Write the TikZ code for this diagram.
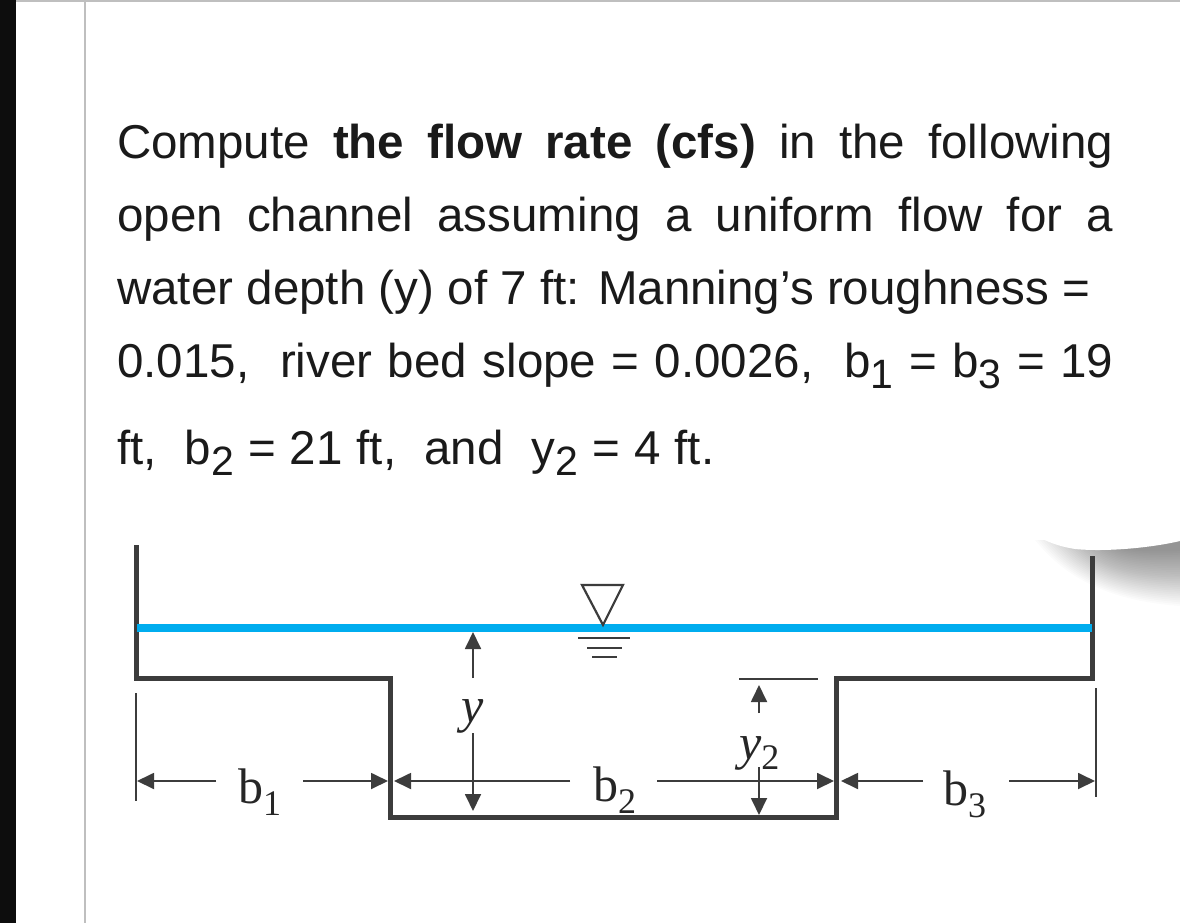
\documentclass[tikz,border=0pt]{standalone}
\usepackage{fontspec}
\setmainfont{Liberation Sans}
\newfontfamily\lblfont{Liberation Serif}
\usetikzlibrary{arrows.meta}
\definecolor{ink}{HTML}{3C3C3C}
\definecolor{water}{HTML}{00ADEF}
\definecolor{txt}{HTML}{1A1A1A}
\newcommand{\lowsub}[1]{\raisebox{-0.24em}{\fontsize{41}{41}\selectfont #1}}
\newcommand{\bsub}[2]{{\lblfont\fontsize{50}{50}\selectfont #1\raisebox{-0.24em}{\fontsize{36}{36}\selectfont #2}}}
\tikzset{
  x=1pt,y=-1pt,
  para/.style={anchor=base west,inner sep=0pt,text=txt,font=\fontsize{47.5}{48}\selectfont},
  lbl/.style={anchor=base west,inner sep=0pt,text=black!85},
  wall/.style={draw=ink,line width=5pt,line join=miter},
  thin/.style={draw=ink,line width=1.8pt},
  dim/.style={draw=ink,line width=1.8pt,-{Triangle[length=17pt,width=16pt]}},
  frameline/.style={draw=black!25,line width=1.6pt}
}
\begin{document}
\begin{tikzpicture}
\useasboundingbox (0,0) rectangle (1180,923);
\fill[white] (0,0) rectangle (1180,923);
\fill[black!95] (0,0) rectangle (16,923);
\coordinate (ft) at (16,1); \coordinate (fe) at (1180,1);
\coordinate (fa) at (85,1); \coordinate (fb) at (85,923);
\draw[frameline] (ft) -- (fe);
\draw[frameline] (fa) -- (fb);

% paragraph
\node[para] (l1) at (117,158.5) {\makebox[996pt][s]{Compute \textbf{the flow rate (cfs)} in the following}};
\node[para] (l2) at (117,231) {\makebox[996pt][s]{open channel assuming a uniform flow for a}};
\node[para] (l3) at (117,304) {\makebox[973pt][s]{water depth (y) of 7 ft: Manning’s roughness =}};
\node[para] (l4) at (117,377) {\makebox[996pt][s]{0.015,\ \ river bed slope = 0.0026,\ \ b\lowsub{1} = b\lowsub{3} = 19}};
\node[para] (l5) at (117,464) {\makebox[597pt][s]{ft,\ \ b\lowsub{2} = 21 ft,\ \ and\ \ y\lowsub{2} = 4 ft.}};

% shadow and smudge
\foreach \s in {0,...,29}{
  \fill[black,opacity=0.014] (1180,540) -- (1180,{606-1.9*\s}) .. controls (1130,{602-1.7*\s}) and ({1075+1.5*\s},{590-1.4*\s}) .. ({1035+2.5*\s},540) -- cycle;
}
\fill[white] (1180,400) -- (1180,541) .. controls (1150,548) and (1105,552) .. (1075,549)
  .. controls (1050,545) and (1030,535) .. (1020,520) .. controls (1030,470) and (1050,420) .. (1120,400) -- cycle;

% channel
\coordinate (w1) at (136,545); \coordinate (w2) at (136,678);
\coordinate (w3) at (390,678); \coordinate (w4) at (390,817);
\coordinate (w5) at (836,817); \coordinate (w6) at (836,678);
\coordinate (w7) at (1092,678); \coordinate (w8) at (1092,556);
\draw[wall] (w1) -- (w2) -- (w3) -- (w4) -- (w5) -- (w6) -- (w7) -- (w8);
\coordinate (wl) at (137,628); \coordinate (wr) at (1092,628);
\draw[draw=water,line width=8pt] (wl) -- (wr);

% water symbol
\coordinate (t1) at (582,585); \coordinate (t2) at (623,585); \coordinate (t3) at (603,625);
\draw[draw=ink,line width=2.2pt,line join=miter] (t1) -- (t2) -- (t3) -- cycle;
\coordinate (s1a) at (578,638); \coordinate (s1b) at (630,638);
\coordinate (s2a) at (587,648); \coordinate (s2b) at (622,648);
\coordinate (s3a) at (592,657); \coordinate (s3b) at (617,657);
\draw[thin] (s1a) -- (s1b);
\draw[thin] (s2a) -- (s2b);
\draw[thin] (s3a) -- (s3b);

% ticks
\coordinate (tl1) at (136,693); \coordinate (tl2) at (136,801);
\coordinate (tr1) at (1096,688); \coordinate (tr2) at (1096,797);
\draw[thin] (tl1) -- (tl2);
\draw[thin] (tr1) -- (tr2);

% y
\coordinate (y1) at (473,678); \coordinate (y1t) at (473,632);
\coordinate (y2) at (473,733); \coordinate (y2t) at (473,811);
\draw[dim] (y1) -- (y1t);
\draw[dim] (y2) -- (y2t);
\node[lbl] (ylab) at (461,722) {\lblfont\itshape\fontsize{50}{50}\selectfont y};

% y2
\coordinate (v1) at (739,679); \coordinate (v2) at (818,679);
\draw[thin] (v1) -- (v2);
\coordinate (v3) at (759,713); \coordinate (v3t) at (759,685);
\coordinate (v4) at (759,767); \coordinate (v4t) at (759,815);
\draw[dim] (v3) -- (v3t);
\draw[dim] (v4) -- (v4t);
\node[lbl] (y2lab) at (739,759) {\lblfont\fontsize{50}{50}\selectfont\textit{y}\raisebox{-0.2em}{\fontsize{36}{36}\selectfont 2}};

% horizontal dims
\coordinate (a1) at (216,781); \coordinate (a1t) at (137,781);
\coordinate (a2) at (303,781); \coordinate (a2t) at (388,781);
\coordinate (a3) at (570,781); \coordinate (a3t) at (394,781);
\coordinate (a4) at (657,781); \coordinate (a4t) at (834,781);
\coordinate (a5) at (923,781); \coordinate (a5t) at (841,781);
\coordinate (a6) at (1009,781); \coordinate (a6t) at (1095,781);
\draw[dim] (a1) -- (a1t);
\draw[dim] (a2) -- (a2t);
\draw[dim] (a3) -- (a3t);
\draw[dim] (a4) -- (a4t);
\draw[dim] (a5) -- (a5t);
\draw[dim] (a6) -- (a6t);
\node[lbl] (b1lab) at (238,803) {\bsub{b}{1}};
\node[lbl] (b2lab) at (593,801) {\bsub{b}{2}};
\node[lbl] (b3lab) at (943,805) {\bsub{b}{3}};
\end{tikzpicture}
\end{document}
